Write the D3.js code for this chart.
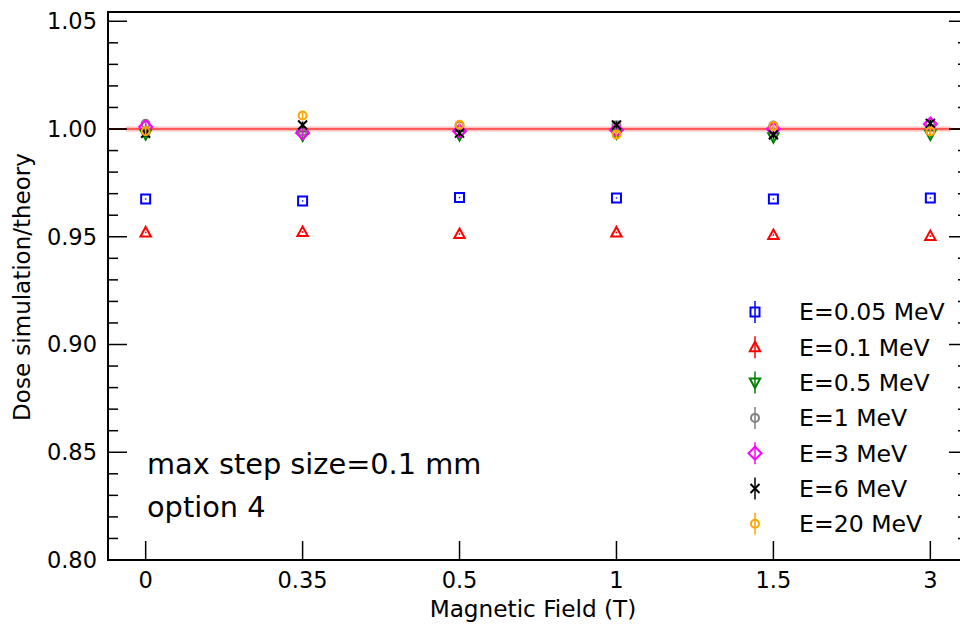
<!DOCTYPE html>
<html>
<head>
<meta charset="utf-8">
<script src="https://cdn.jsdelivr.net/npm/d3@7"></script>
<style>
  html, body { margin: 0; padding: 0; background: #fff; }
  svg { display: block; font-family: "DejaVu Sans", sans-serif; }
</style>
</head>
<body>
<svg id="chart" width="960" height="628"></svg>
<script>
// Magnetic field values (categorical positions on the x axis)
const fields = ["0", "0.35", "0.5", "1", "1.5", "3"];

// Dose ratio simulation/theory per photon energy
const e005 = [0.9675, 0.9666, 0.9682, 0.9680, 0.9675, 0.9680];
const e01  = [0.9520, 0.9522, 0.9513, 0.9520, 0.9508, 0.9503];
const e05  = [0.9976, 0.9970, 0.9972, 0.9980, 0.9962, 0.9975];
const e1   = [1.0024, 0.9990, 1.0015, 1.0018, 1.0016, 1.0025];
const e3   = [1.0010, 0.9982, 0.9990, 0.9995, 1.0000, 1.0023];
const e6   = [0.9980, 1.0019, 0.9981, 1.0019, 0.9973, 1.0026];
const e20  = [0.9990, 1.0063, 1.0020, 0.9974, 1.0014, 0.9989];

// Statistical uncertainties
const err005 = [0.0003, 0.0003, 0.0003, 0.0003, 0.0003, 0.0003];
const err01  = [0.0004, 0.0004, 0.0004, 0.0004, 0.0004, 0.0004];
const err05  = [0.0012, 0.0012, 0.0012, 0.0012, 0.0012, 0.0012];
const err1   = [0.0012, 0.0012, 0.0012, 0.0012, 0.0012, 0.0012];
const err3   = [0.0014, 0.0014, 0.0014, 0.0014, 0.0014, 0.0014];
const err6   = [0.0016, 0.0016, 0.0016, 0.0016, 0.0016, 0.0016];
const err20  = [0.0020, 0.0020, 0.0020, 0.0020, 0.0020, 0.0020];

const seriesLabels = ["E=0.05 MeV", "E=0.1 MeV", "E=0.5 MeV", "E=1 MeV", "E=3 MeV", "E=6 MeV", "E=20 MeV"];
const yTicks = [0.80, 0.85, 0.90, 0.95, 1.00, 1.05];

const series = [
  { label: seriesLabels[0], values: e005, errs: err005, color: "#0000ff", shape: "square" },
  { label: seriesLabels[1], values: e01,  errs: err01,  color: "#ff0000", shape: "triUp" },
  { label: seriesLabels[2], values: e05,  errs: err05,  color: "#008000", shape: "triDown" },
  { label: seriesLabels[3], values: e1,   errs: err1,   color: "#808080", shape: "circle" },
  { label: seriesLabels[4], values: e3,   errs: err3,   color: "#ff00ff", shape: "diamond" },
  { label: seriesLabels[5], values: e6,   errs: err6,   color: "#000000", shape: "cross" },
  { label: seriesLabels[6], values: e20,  errs: err20,  color: "#ffa500", shape: "circle" }
];

const svg = d3.select("#chart");
const L = 108, R = 968, T = 12, B = 560;

const x = d3.scaleLinear().domain([-0.24, 5.24]).range([L, R]);
const y = d3.scaleLinear().domain([0.80, 1.0543]).range([B, T]);

const plot = svg.append("g");

// Reference line at ratio 1
plot.append("line")
  .attr("x1", L).attr("x2", R)
  .attr("y1", y(1)).attr("y2", y(1))
  .attr("stroke", "#8b0000").attr("stroke-width", 2);
plot.append("line")
  .attr("x1", x(-0.125)).attr("x2", x(5.13))
  .attr("y1", y(1)).attr("y2", y(1))
  .attr("stroke", "#ffc0c0").attr("stroke-width", 5);
plot.append("line")
  .attr("x1", x(-0.125)).attr("x2", x(5.13))
  .attr("y1", y(1)).attr("y2", y(1))
  .attr("stroke", "#ff5a5a").attr("stroke-width", 2);

// Marker path generators (centered at 0,0)
function markerPath(shape) {
  switch (shape) {
    case "square": return "M-4.5,-4.5H4.5V4.5H-4.5Z";
    case "triUp": return "M0,-5.5L5.2,4L-5.2,4Z";
    case "triDown": return "M0,5.5L5.2,-4L-5.2,-4Z";
    case "circle": return d3.symbol(d3.symbolCircle, 50)();
    case "diamond": return "M0,-6.5L6.5,0L0,6.5L-6.5,0Z";
    case "cross": return "M-4.5,-4.5L4.5,4.5M4.5,-4.5L-4.5,4.5";
  }
}

function drawPoint(g, cx, cy, s, e1px, e2px) {
  // error bar
  g.append("line")
    .attr("x1", cx).attr("x2", cx)
    .attr("y1", e1px).attr("y2", e2px)
    .attr("stroke", s.color).attr("stroke-width", 1.5);
  g.append("path")
    .attr("d", markerPath(s.shape))
    .attr("transform", `translate(${cx},${cy})`)
    .attr("fill", "none")
    .attr("stroke", s.color)
    .attr("stroke-width", 2);
}

const pts = plot.append("g");
series.forEach(s => {
  s.values.forEach((v, i) => {
    drawPoint(pts, x(i), y(v), s, y(v - s.errs[i]), y(v + s.errs[i]));
  });
});

// Frame
svg.append("rect")
  .attr("x", L).attr("y", T).attr("width", R - L).attr("height", B - T)
  .attr("fill", "none").attr("stroke", "#000").attr("stroke-width", 2);

// Y ticks (inward, both sides)
const yMinor = d3.range(0, 26).map(i => +(0.80 + i * 0.01).toFixed(2));
const ax = svg.append("g").attr("stroke", "#000").attr("stroke-width", 1.5);
yMinor.forEach(v => {
  const major = yTicks.some(t => Math.abs(t - v) < 1e-9);
  const len = major ? 19 : 10;
  ax.append("line").attr("x1", L).attr("x2", L + len).attr("y1", y(v)).attr("y2", y(v));
  ax.append("line").attr("x1", R).attr("x2", R - len).attr("y1", y(v)).attr("y2", y(v));
});
// X ticks (inward, bottom)
fields.forEach((f, i) => {
  ax.append("line").attr("x1", x(i)).attr("x2", x(i)).attr("y1", B).attr("y2", B - 19);
});

// Tick labels
const labels = svg.append("g").attr("fill", "#000").style("font-size", "22.5px");
yTicks.forEach(t => {
  labels.append("text")
    .attr("x", L - 11).attr("y", y(t))
    .attr("dy", "0.35em")
    .attr("text-anchor", "end")
    .text(t.toFixed(2));
});
fields.forEach((f, i) => {
  labels.append("text")
    .attr("x", x(i)).attr("y", B + 28)
    .attr("text-anchor", "middle")
    .text(f);
});

// Axis titles
svg.append("text")
  .attr("x", 533).attr("y", 617)
  .attr("text-anchor", "middle")
  .style("font-size", "23.2px")
  .text("Magnetic Field (T)");
svg.append("text")
  .attr("transform", `translate(30,${(T + B) / 2 + 1}) rotate(-90)`)
  .attr("text-anchor", "middle")
  .style("font-size", "23px")
  .text("Dose simulation/theory");

// Annotations
svg.append("text").attr("x", 147).attr("y", 474).style("font-size", "28.8px").text("max step size=0.1 mm");
svg.append("text").attr("x", 147).attr("y", 517).style("font-size", "28.8px").text("option 4");

// Legend
const leg = svg.append("g");
series.forEach((s, k) => {
  const cy = 312 + k * 35.3;
  drawPoint(leg, 755, cy, s, cy - 11, cy + 11);
  leg.append("text")
    .attr("x", 799).attr("y", cy).attr("dy", "0.36em")
    .style("font-size", "23.6px")
    .text(s.label);
});
</script>
</body>
</html>
